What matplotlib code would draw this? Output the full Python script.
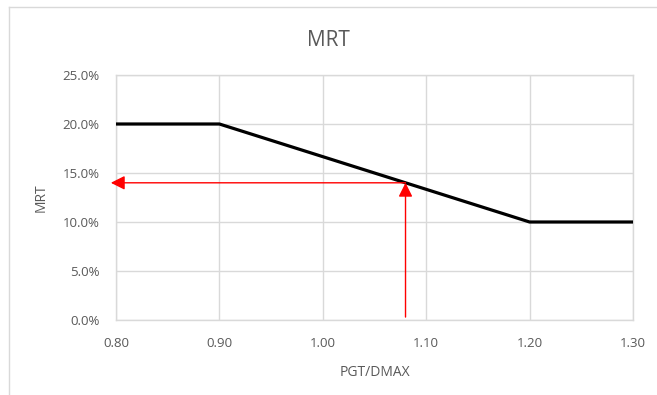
import matplotlib.pyplot as plt
from matplotlib.lines import Line2D
from matplotlib.ticker import FuncFormatter

# MRT as a function of PGT/DMAX
pgt_dmax = [0.80, 0.90, 1.20, 1.30]
mrt = [0.20, 0.20, 0.10, 0.10]

# lookup point
look_x = 1.08
look_y = 0.14

x_ticks = [0.80, 0.90, 1.00, 1.10, 1.20, 1.30]
y_ticks = [0.00, 0.05, 0.10, 0.15, 0.20, 0.25]

text_color = '#595959'
grid_color = '#d9d9d9'

plt.rcParams['font.family'] = ['Open Sans', 'DejaVu Sans']

fig = plt.figure(figsize=(6.57, 3.95), dpi=100)
ax = fig.add_axes([116 / 657, 1 - 320 / 395, 517 / 657, 245 / 395])

ax.plot(pgt_dmax, mrt, color='black', linewidth=2.3, zorder=3, solid_capstyle='butt')

arrow = dict(arrowstyle='-|>,head_length=0.6,head_width=0.3', mutation_scale=14,
             color='red', linewidth=1.0, shrinkA=0, shrinkB=0)
# horizontal arrow to the MRT axis
ax.annotate('', xy=(0.795, look_y), xytext=(look_x, look_y),
            arrowprops=arrow, annotation_clip=False, zorder=4)
# vertical arrow up from PGT/DMAX
ax.annotate('', xy=(look_x, look_y), xytext=(look_x, 0.003),
            arrowprops=arrow, annotation_clip=False, zorder=4)

ax.set_xlim(0.80, 1.30)
ax.set_ylim(0.0, 0.25)
ax.set_xticks(x_ticks)
ax.set_yticks(y_ticks)
ax.xaxis.set_major_formatter(FuncFormatter(lambda v, p: '{:.2f}'.format(v)))
ax.yaxis.set_major_formatter(FuncFormatter(lambda v, p: '{:.1f}%'.format(v * 100)))
ax.tick_params(axis='both', length=0, labelsize=9.5, labelcolor=text_color)
ax.tick_params(axis='x', pad=12)
ax.tick_params(axis='y', pad=12)

ax.grid(True, color=grid_color, linewidth=1.0, zorder=0)
for side in ax.spines.values():
    side.set_color(grid_color)
    side.set_linewidth(1.0)

ax.set_xlabel('PGT/DMAX', fontsize=10, color=text_color, labelpad=11)
ax.set_ylabel('MRT', fontsize=10, color=text_color, labelpad=10)
fig.text(0.5, 1 - 40 / 395, 'MRT', ha='center', va='center', fontsize=15, color=text_color)

# chart frame
fig.add_artist(Line2D([9 / 657, 9 / 657], [0, 1 - 7 / 395], transform=fig.transFigure,
                      color=grid_color, linewidth=1.0))
fig.add_artist(Line2D([9 / 657, 1], [1 - 7 / 395, 1 - 7 / 395], transform=fig.transFigure,
                      color=grid_color, linewidth=1.0))

fig.savefig('out.png', dpi=100)
